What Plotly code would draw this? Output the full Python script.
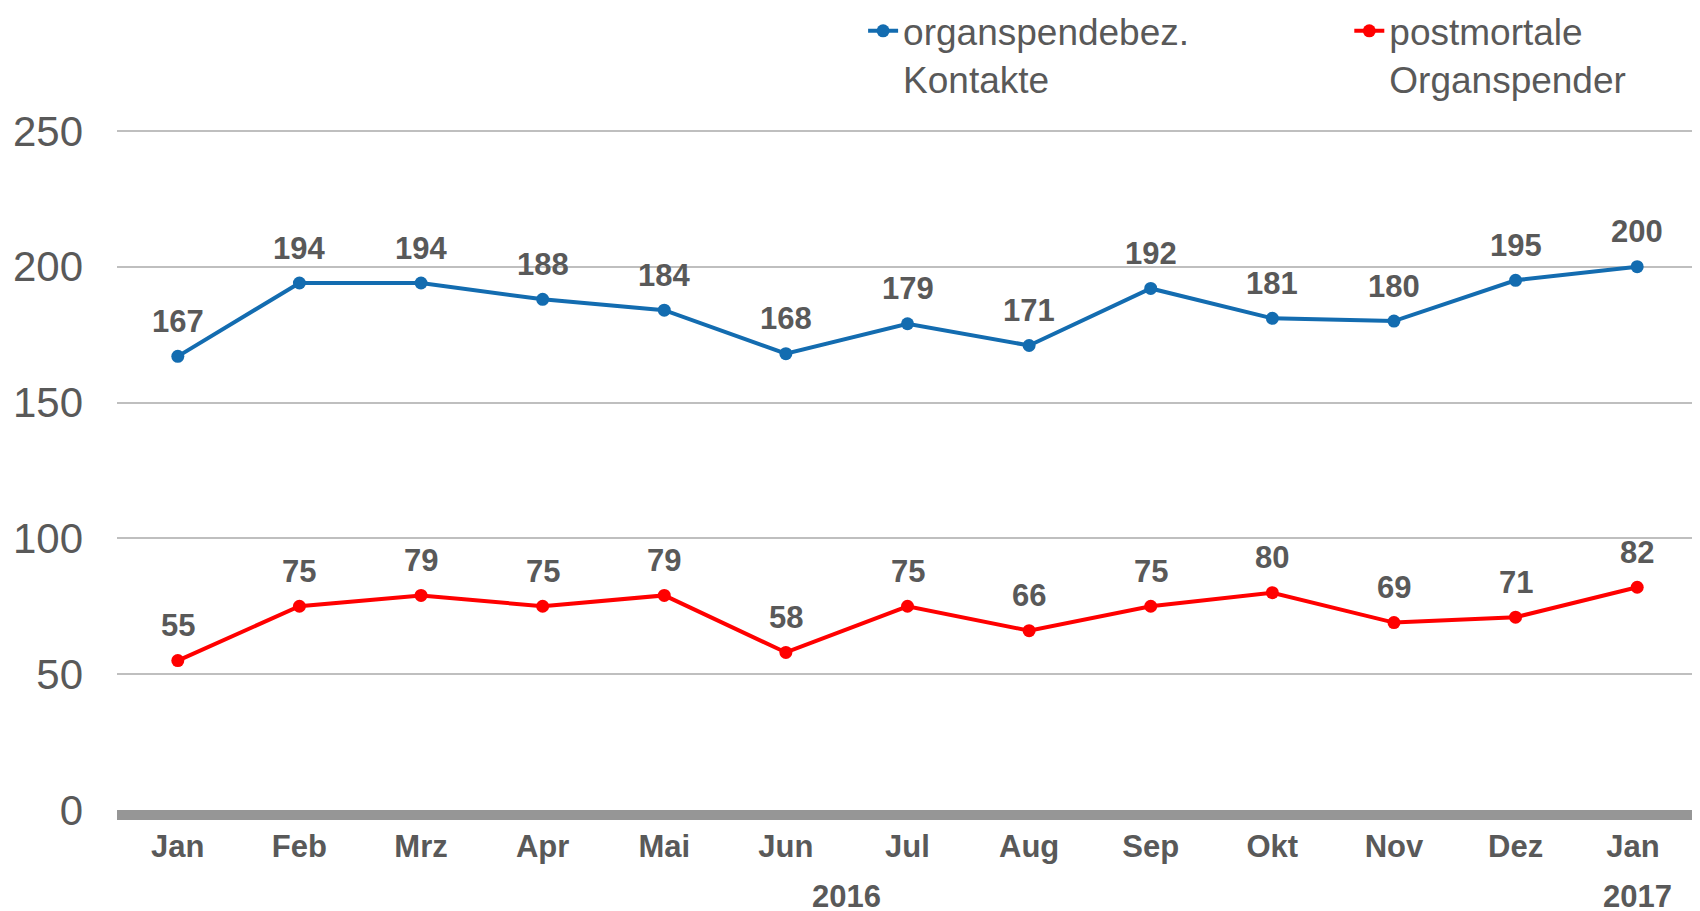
import plotly.graph_objects as go

months = ["Jan", "Feb", "Mrz", "Apr", "Mai", "Jun", "Jul", "Aug", "Sep", "Okt", "Nov", "Dez", "Jan "]
kontakte = [167, 194, 194, 188, 184, 168, 179, 171, 192, 181, 180, 195, 200]
spender = [55, 75, 79, 75, 79, 58, 75, 66, 75, 80, 69, 71, 82]
year_labels = ["2016", "2017"]
year_centers = [5.5, 12]

FONT = "Liberation Sans, Arial, sans-serif"
GREY = "#595959"
BLUE = "#136CB0"
RED = "#FF0000"

x_idx = list(range(len(months)))

fig = go.Figure()
fig.add_trace(go.Scatter(
    x=x_idx, y=kontakte, name="organspendebez.<br>Kontakte",
    mode="lines+markers", legend="legend",
    line=dict(color=BLUE, width=4), marker=dict(color=BLUE, size=13),
    cliponaxis=False,
))
fig.add_trace(go.Scatter(
    x=x_idx, y=spender, name="postmortale<br>Organspender",
    mode="lines+markers", legend="legend2",
    line=dict(color=RED, width=4), marker=dict(color=RED, size=13),
    cliponaxis=False,
))

for series in (kontakte, spender):
    for i, v in zip(x_idx, series):
        fig.add_annotation(x=i, y=v, text=f"<b>{v}</b>", showarrow=False,
                           yshift=35, font=dict(family=FONT, size=31, color=GREY))

for lbl, cx in zip(year_labels, year_centers):
    fig.add_annotation(x=cx, y=-0.127, xref="x", yref="paper", text=f"<b>{lbl}</b>",
                       showarrow=False, yanchor="middle",
                       font=dict(family=FONT, size=31, color=GREY))

leg_common = dict(font=dict(family=FONT, size=37, color=GREY), valign="top",
                  bgcolor="rgba(0,0,0,0)", xref="container", yref="paper",
                  xanchor="left", yanchor="top", y=1.189)

fig.update_layout(
    width=1700, height=911,
    margin=dict(l=109, r=10, t=121, b=109, autoexpand=False),
    paper_bgcolor="white", plot_bgcolor="white",
    font=dict(family=FONT, color=GREY),
    showlegend=True,
    legend=dict(x=0.503, **leg_common),
    legend2=dict(x=0.789, **leg_common),
    xaxis=dict(
        range=[-0.5, 12.5], tickmode="array", tickvals=x_idx, ticktext=[f"<b>{m}</b>" for m in months],
        tickfont=dict(family=FONT, size=31, color=GREY),
        showgrid=False, zeroline=False, showline=True, linecolor="#969696", linewidth=10,
        ticks="", ticklabelstandoff=0,
    ),
    yaxis=dict(
        range=[0, 250.7], tickvals=[0, 50, 100, 150, 200, 250],
        tickfont=dict(family=FONT, size=42, color=GREY),
        showgrid=True, gridcolor="#BFBFBF", gridwidth=2, zeroline=False,
        showline=False, ticks="", ticklabelstandoff=33,
    ),
)

fig.write_html("out.html")
